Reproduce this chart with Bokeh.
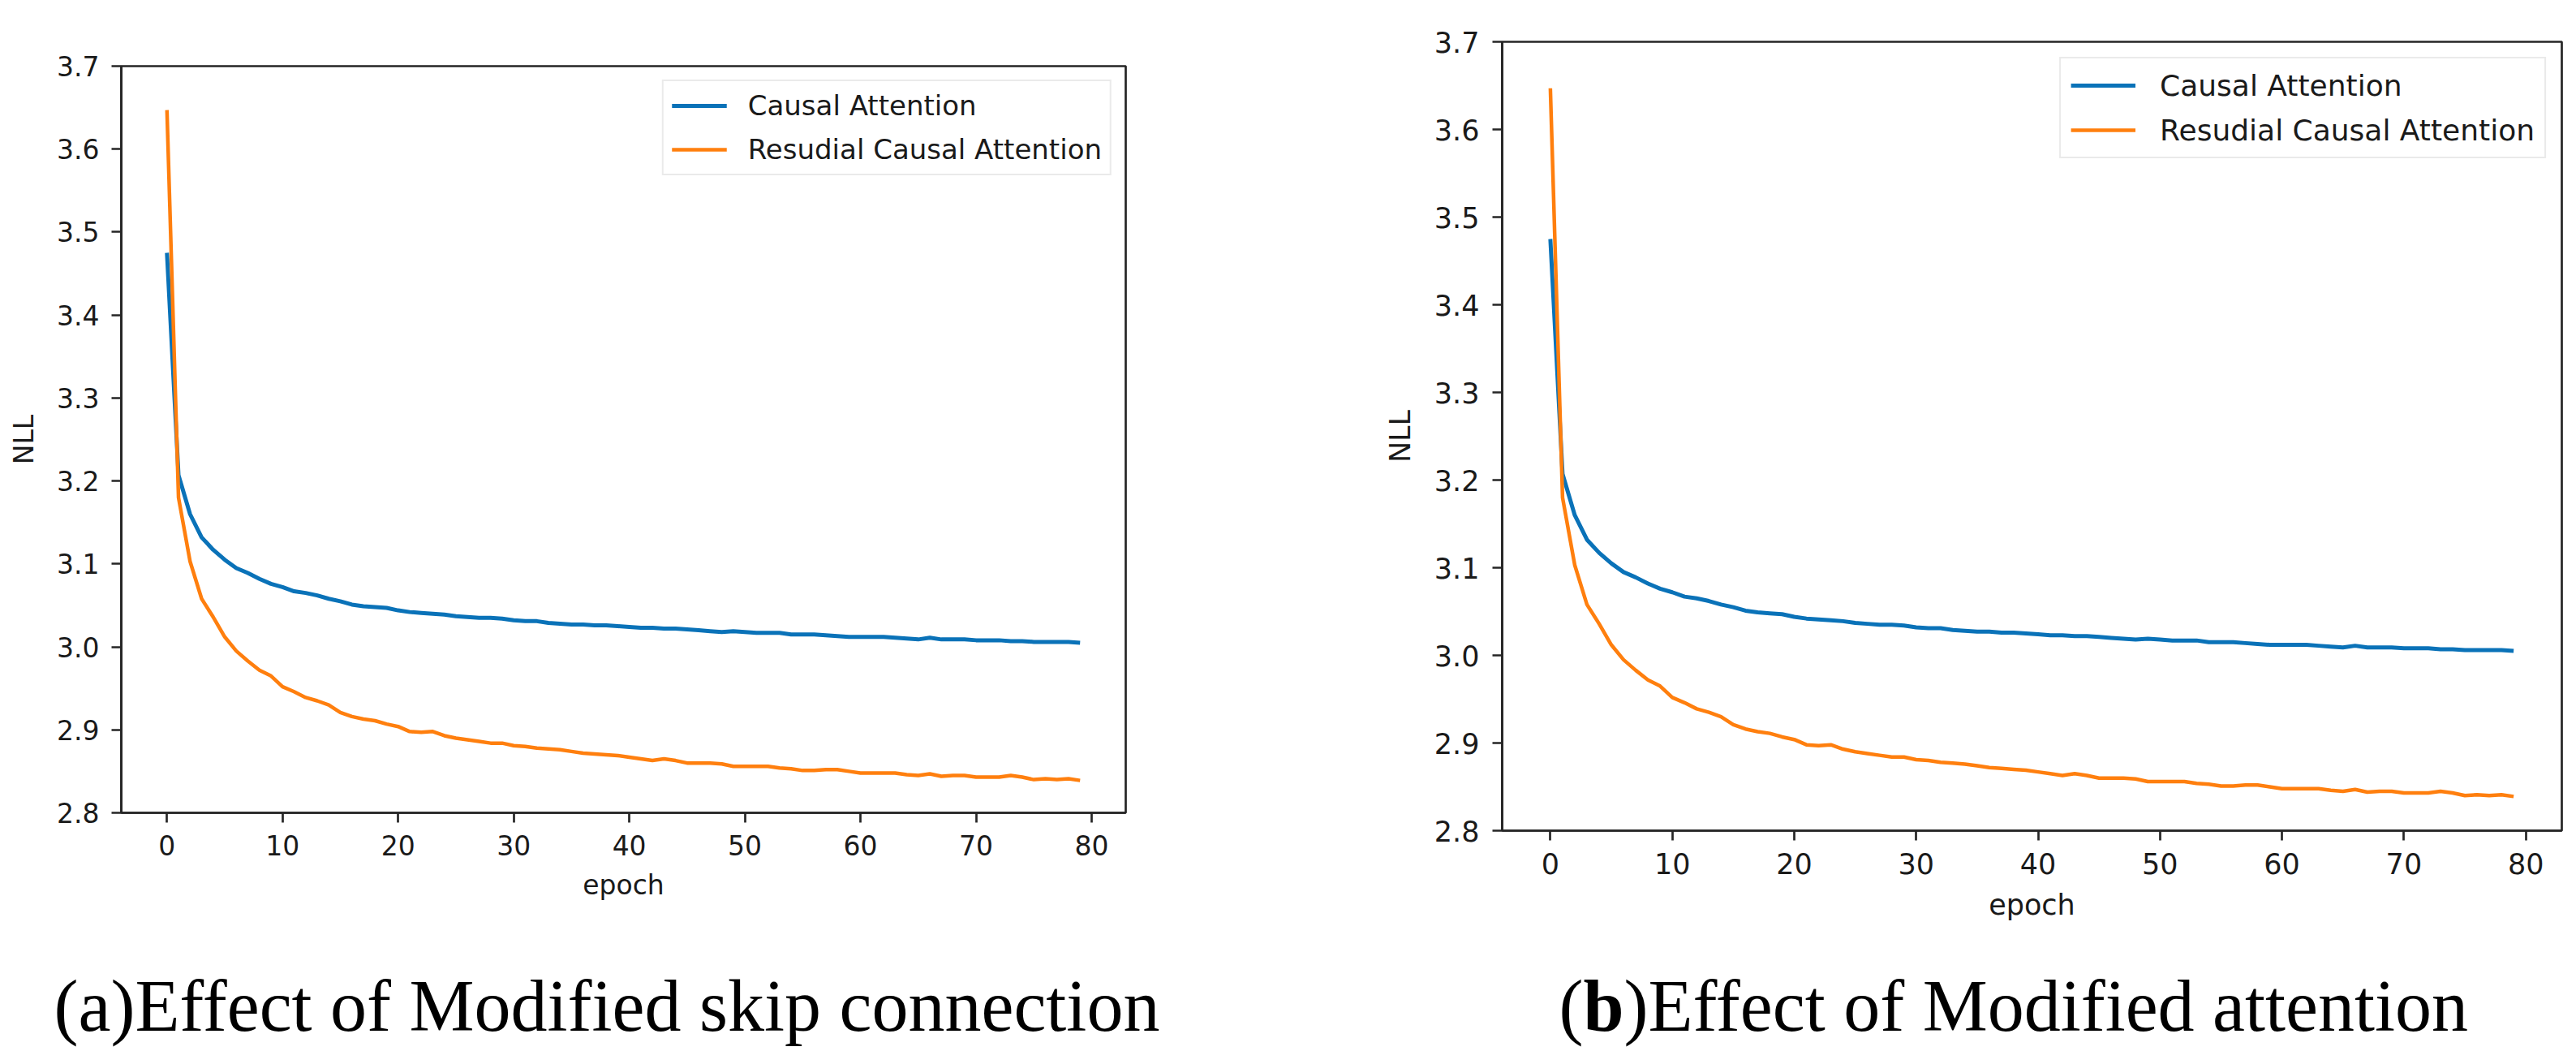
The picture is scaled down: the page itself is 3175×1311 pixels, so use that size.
from bokeh.plotting import figure
from bokeh.models import Range1d, FixedTicker, PrintfTickFormatter, Legend, LegendItem, Label, Spacer
from bokeh.layouts import row, column
from bokeh.embed import file_html
from bokeh.resources import INLINE

# ---------------- data ----------------
epochs = list(range(80))

causal_attention = [
    3.475, 3.207, 3.160, 3.132, 3.117, 3.105, 3.095, 3.089, 3.082, 3.076,
    3.072, 3.067, 3.065, 3.062, 3.058, 3.055, 3.051, 3.049, 3.048, 3.047,
    3.044, 3.042, 3.041, 3.040, 3.039, 3.037, 3.036, 3.035, 3.035, 3.034,
    3.032, 3.031, 3.031, 3.029, 3.028, 3.027, 3.027, 3.026, 3.026, 3.025,
    3.024, 3.023, 3.023, 3.022, 3.022, 3.021, 3.020, 3.019, 3.018, 3.019,
    3.018, 3.017, 3.017, 3.017, 3.015, 3.015, 3.015, 3.014, 3.013, 3.012,
    3.012, 3.012, 3.012, 3.011, 3.010, 3.009, 3.011, 3.009, 3.009, 3.009,
    3.008, 3.008, 3.008, 3.007, 3.007, 3.006, 3.006, 3.006, 3.006, 3.005,
]

residual_causal_attention = [
    3.647, 3.180, 3.103, 3.058, 3.036, 3.012, 2.995, 2.983, 2.972, 2.965,
    2.952, 2.946, 2.939, 2.935, 2.930, 2.921, 2.916, 2.913, 2.911, 2.907,
    2.904, 2.898, 2.897, 2.898, 2.893, 2.890, 2.888, 2.886, 2.884, 2.884,
    2.881, 2.880, 2.878, 2.877, 2.876, 2.874, 2.872, 2.871, 2.870, 2.869,
    2.867, 2.865, 2.863, 2.865, 2.863, 2.860, 2.860, 2.860, 2.859, 2.856,
    2.856, 2.856, 2.856, 2.854, 2.853, 2.851, 2.851, 2.852, 2.852, 2.850,
    2.848, 2.848, 2.848, 2.848, 2.846, 2.845, 2.847, 2.844, 2.845, 2.845,
    2.843, 2.843, 2.843, 2.845, 2.843, 2.840, 2.841, 2.840, 2.841, 2.839,
]

series_names = ["Causal Attention", "Resudial Causal Attention"]
x_ticks = [0, 10, 20, 30, 40, 50, 60, 70, 80]
y_ticks = [2.8, 2.9, 3.0, 3.1, 3.2, 3.3, 3.4, 3.5, 3.6, 3.7]
x_label = "epoch"
y_label = "NLL"
caption_a = "(a)Effect of Modified skip connection"
caption_b_parts = ["(", "b", ")Effect of Modified attention"]

BLUE = "#0a72b8"
ORANGE = "#ff7f0e"
SPINE = "#262626"

OFF = 8                # shift of the whole drawing inside the page
PAGE_W = 3159
PAGE_H = 1295
TOP_H = 1150           # height of the row of panels
CAP_H = PAGE_H - TOP_H # caption strip height
A_SHIFT = 30           # panel (a) sits lower than panel (b)


def make_panel(frame_w, frame_h, left, top, right, bottom, fs, lfs, xstand, leg):
    p = figure(frame_width=frame_w, frame_height=frame_h,
               min_border_left=left, min_border_top=top,
               min_border_right=right, min_border_bottom=bottom,
               x_range=Range1d(-3.95, 82.95), y_range=Range1d(2.8, 3.7),
               output_backend="svg", toolbar_location=None, title=None,
               background_fill_color="white", border_fill_color="white")
    p.grid.visible = False
    p.outline_line_color = SPINE
    p.outline_line_width = 2.7
    p.outline_line_alpha = 1.0

    r1 = p.line(epochs, causal_attention, line_color=BLUE, line_width=5)
    r2 = p.line(epochs, residual_causal_attention, line_color=ORANGE, line_width=4.5)

    for ax in (p.xaxis[0], p.yaxis[0]):
        ax.axis_line_color = SPINE
        ax.axis_line_width = 2.7
        ax.major_tick_line_color = SPINE
        ax.major_tick_line_width = 2.7
        ax.major_tick_in = 0
        ax.major_tick_out = round(fs * 0.35)
        ax.minor_tick_line_color = None
        ax.major_label_text_font = "DejaVu Sans"
        ax.major_label_text_font_size = f"{fs}px"
        ax.major_label_text_color = "#1a1a1a"
        ax.axis_label_text_font = "DejaVu Sans"
        ax.axis_label_text_font_size = f"{fs}px"
        ax.axis_label_text_font_style = "normal"
        ax.axis_label_text_color = "#1a1a1a"

    p.xaxis.ticker = FixedTicker(ticks=x_ticks)
    p.yaxis.ticker = FixedTicker(ticks=y_ticks)
    p.yaxis.formatter = PrintfTickFormatter(format="%.1f")
    p.xaxis.axis_label = x_label
    p.yaxis.axis_label = y_label
    p.xaxis.major_label_standoff = xstand[0]
    p.xaxis.axis_label_standoff = xstand[1]
    p.yaxis.major_label_standoff = round(fs * 0.45)
    p.yaxis.axis_label_standoff = round(fs * 0.55)

    margin, pad, gw, gh, sp, ls = leg
    legend = Legend(items=[LegendItem(label=series_names[0], renderers=[r1]),
                           LegendItem(label=series_names[1], renderers=[r2])],
                    location="top_right")
    legend.margin = margin
    legend.padding = pad
    legend.glyph_width = gw
    legend.glyph_height = gh
    legend.label_height = gh
    legend.spacing = sp
    legend.label_standoff = ls
    legend.label_text_font = "DejaVu Sans"
    legend.label_text_font_size = f"{lfs}px"
    legend.label_text_color = "#1a1a1a"
    legend.border_line_color = "#d6d6d6"
    legend.border_line_width = 2.5
    legend.background_fill_alpha = 0.8
    p.add_layout(legend)
    return p


# Panel (a): frame 1238 x 920
a_top = 43 + OFF
pa = make_panel(1238, 920, 141 + OFF, a_top, 313,
                TOP_H - A_SHIFT - a_top - 920, 33, 34, (15, 14),
                (17, 10, 68, 40, 14, 26))
# Panel (b): frame 1306 x 972
b_top = 43 + OFF
pb = make_panel(1306, 972, 151, b_top, 2, TOP_H - b_top - 972, 35, 36, (15, 15),
                (19, 12, 80, 42, 13, 30))

panel_a_box = column(Spacer(width=1700, height=A_SHIFT), pa, spacing=0)

# caption strip
cap = figure(frame_width=PAGE_W, frame_height=CAP_H, min_border=0,
             x_range=Range1d(0, PAGE_W), y_range=Range1d(0, CAP_H),
             output_backend="svg", toolbar_location=None, title=None,
             background_fill_color="white", border_fill_color="white")
cap.xaxis.visible = False
cap.yaxis.visible = False
cap.grid.visible = False
cap.outline_line_color = None

fsz = 90
base_y = 56
cap.add_layout(Label(x=66, y=base_y, text=caption_a, text_font="Liberation Serif",
                     text_font_size=f"{fsz}px", text_color="black",
                     text_baseline="alphabetic", text_align="left"))
xb = 1921
cap.add_layout(Label(x=xb, y=base_y, text=caption_b_parts[0], text_font="Liberation Serif",
                     text_font_size=f"{fsz}px", text_color="black",
                     text_baseline="alphabetic"))
cap.add_layout(Label(x=xb + 0.333 * fsz, y=base_y, text=caption_b_parts[1],
                     text_font="Liberation Serif", text_font_size=f"{fsz}px",
                     text_font_style="bold", text_color="black",
                     text_baseline="alphabetic"))
cap.add_layout(Label(x=xb + (0.333 + 0.556) * fsz, y=base_y, text=caption_b_parts[2],
                     text_font="Liberation Serif", text_font_size=f"{fsz}px",
                     text_color="black", text_baseline="alphabetic"))

layout = column(row(panel_a_box, pb, spacing=0), cap, spacing=0)
open("out.html", "w").write(file_html(layout, INLINE))
